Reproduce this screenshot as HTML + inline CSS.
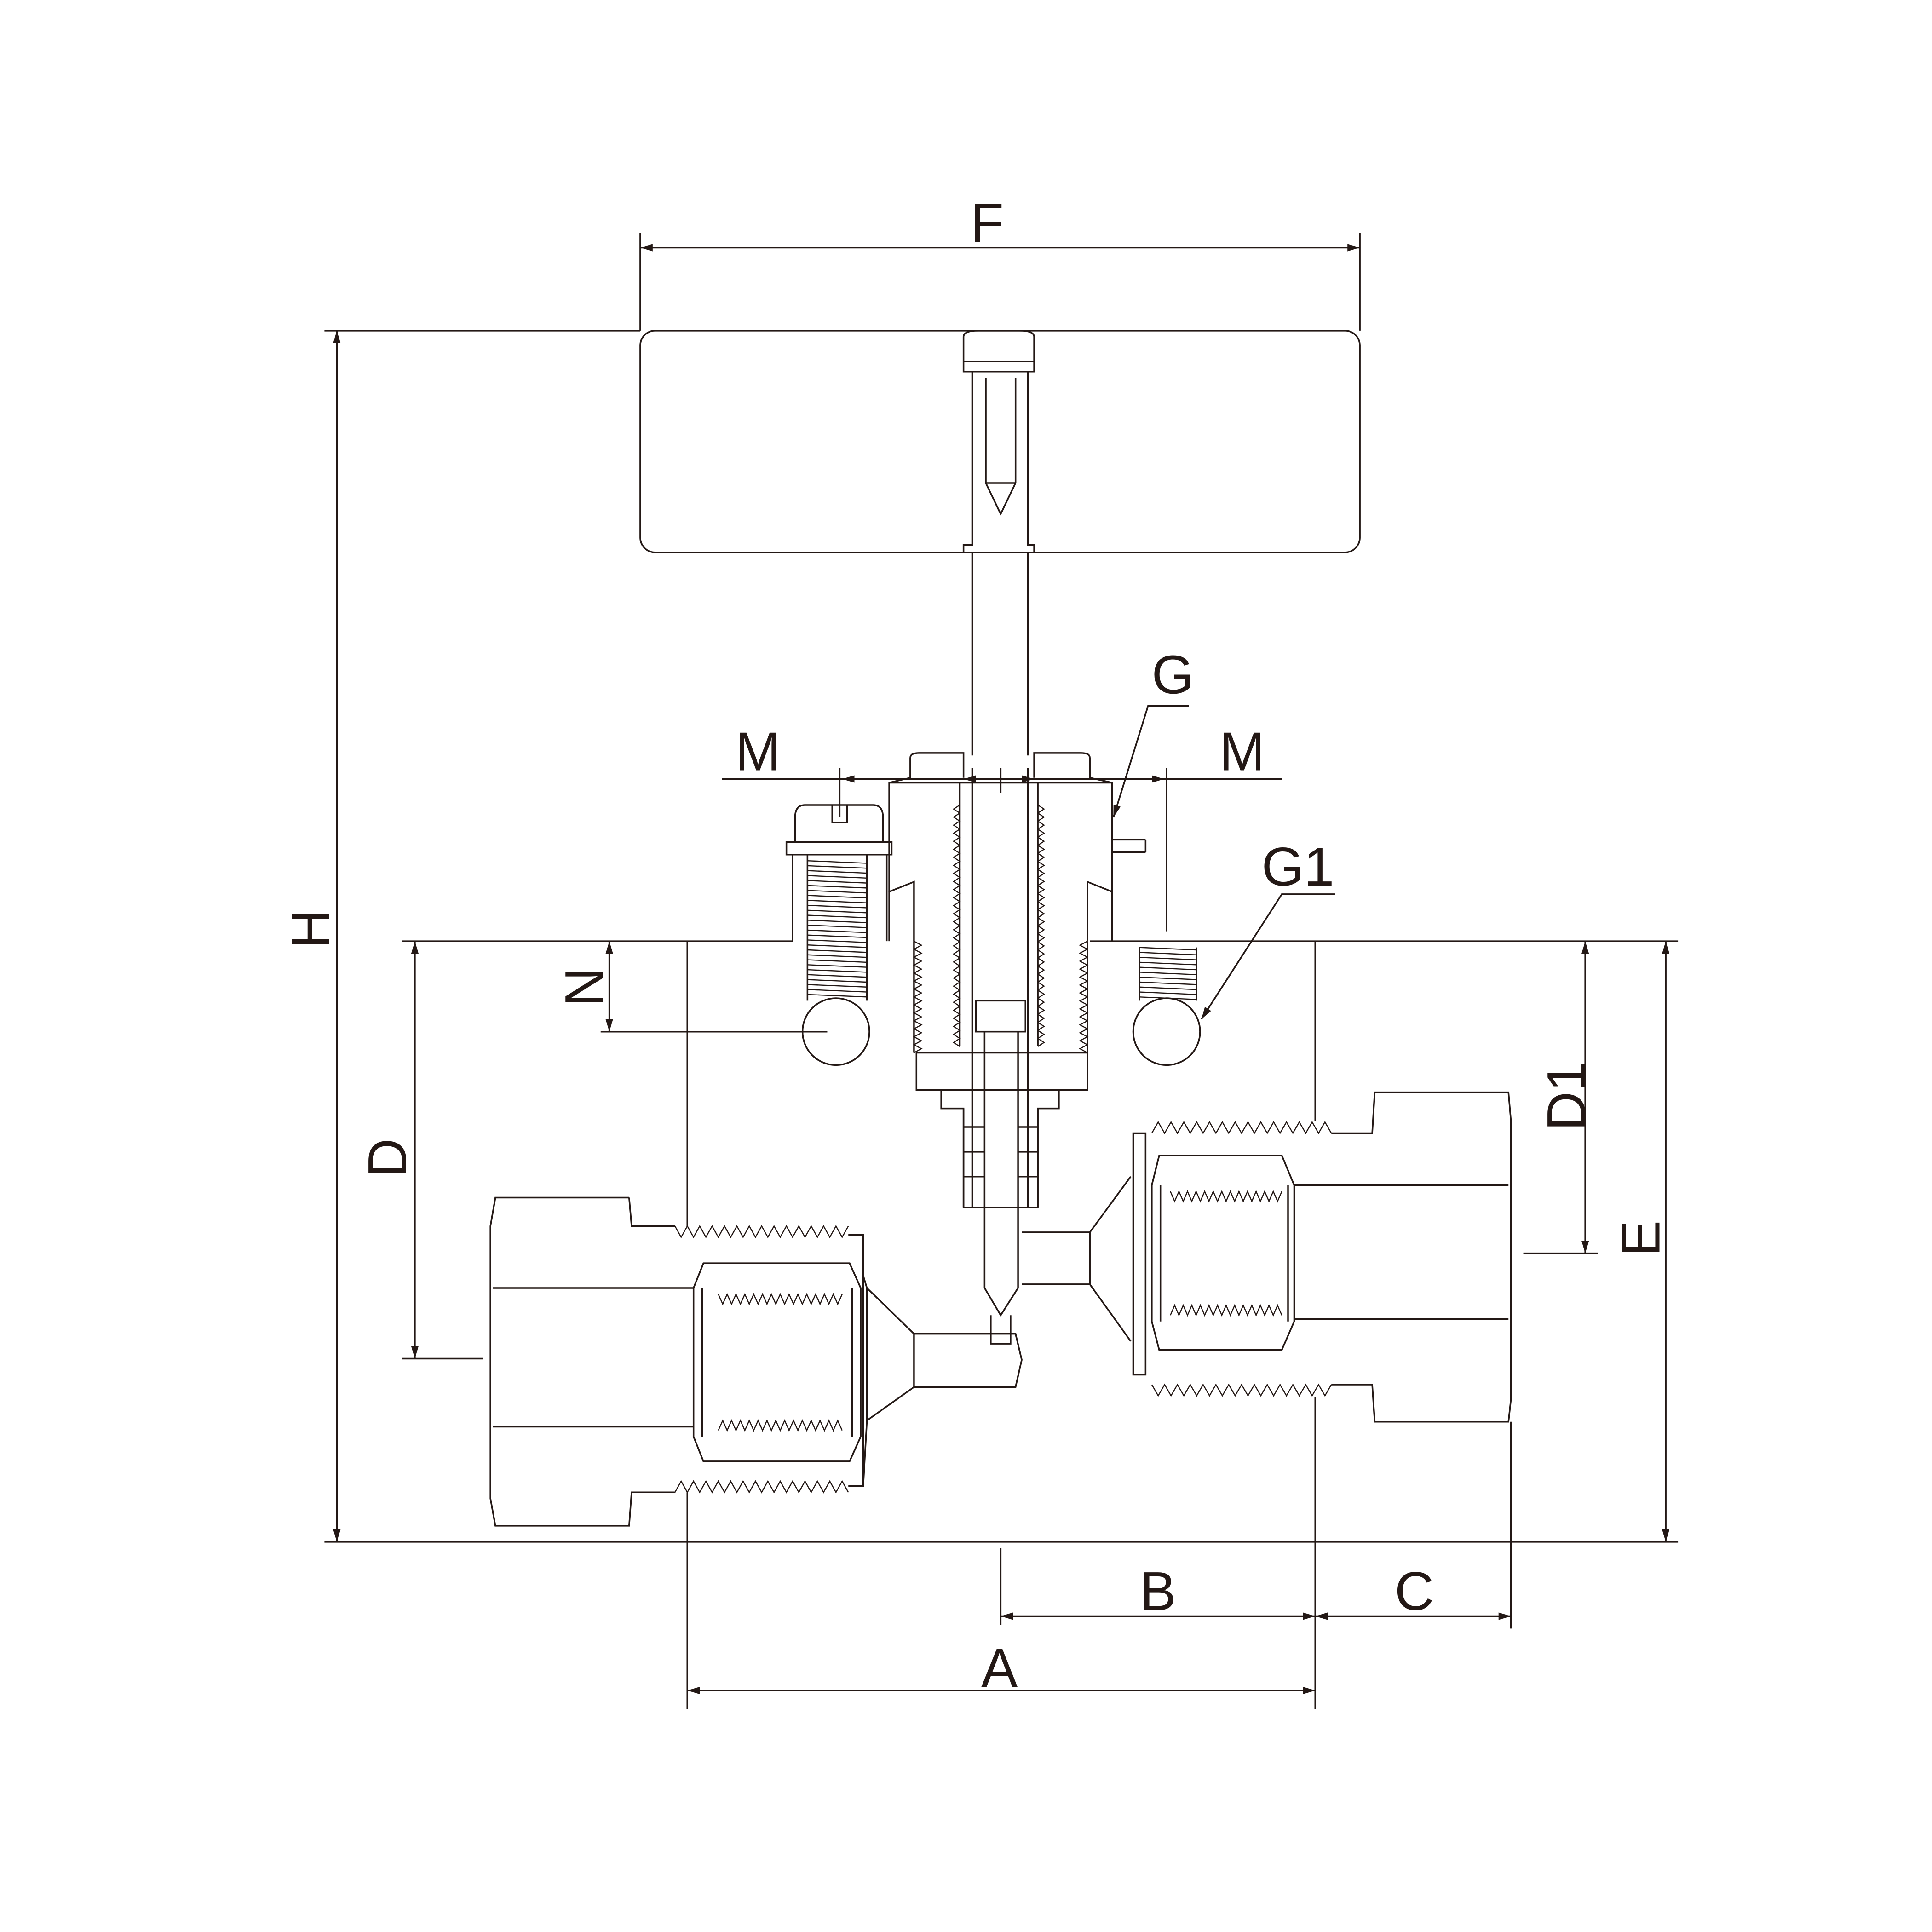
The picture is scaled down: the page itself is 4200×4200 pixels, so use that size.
<!DOCTYPE html>
<html><head><meta charset="utf-8"><style>
html,body{margin:0;padding:0;background:#fff}
svg{display:block}
text{font-family:"Liberation Sans",sans-serif;fill:#231815}
</style></head><body>
<svg id="s" width="4200" height="4200" viewBox="0 0 1560 1560" xmlns="http://www.w3.org/2000/svg">
<defs><marker id="a" viewBox="0 0 10 6" refX="10" refY="3" markerWidth="10" markerHeight="6" orient="auto-start-reverse" markerUnits="userSpaceOnUse"><path d="M0,0L10,3L0,6z" fill="#231815"/></marker></defs>
<g fill="none" stroke="#231815" stroke-width="1.3" id="g">
<!-- handle -->
<rect x="517" y="267" width="581" height="179" rx="12"/>
<path d="M778,300V272Q778,267 790,267H823Q835,267 835,272V300Z"/>
<line x1="778" y1="292" x2="835" y2="292"/>
<path d="M785,300V440H778V446M830,300V440H835V446"/>
<path d="M796,305V390L808,415L820,390V305"/>
<line x1="796" y1="390" x2="820" y2="390"/>
<path d="M785,446V610M830,446V610"/>
<!-- body -->
<path d="M555,760V990M555,1205V1245M1062,760V905M1062,1128V1245"/>
<line x1="325" y1="760" x2="640" y2="760"/>
<line x1="880" y1="760" x2="1355" y2="760"/>
<line x1="262" y1="1245" x2="1355" y2="1245"/>
<!-- packing nut/bonnet -->
<path d="M718,760V720L738,712V760M898,760V720L878,712V760"/>
<path d="M718,720V632L735,628V612Q735,608 742,608H778V628M898,720V632L880,628V612Q880,608 873,608H835V628"/>
<line x1="718" y1="632" x2="898" y2="632"/>
<line x1="898" y1="678" x2="925" y2="678"/><line x1="898" y1="688" x2="925" y2="688"/><line x1="925" y1="678" x2="925" y2="688"/>
<path d="M775,632V845M838,632V845"/>
<path d="M738,760V850M878,760V850"/>
<path d="M740,850H878V880H740Z"/>
<path d="M760,880V895H778V975H838V895H855V880"/>
<path d="M785,620V975M830,620V975"/>
<rect x="788" y="808" width="40" height="25"/>
<path d="M795,833V1040L808,1062L822,1040V833"/>
<path d="M778,895V975M838,895V975"/>
<path d="M778,910H795M778,930H795M778,950H795M822,910H838M822,930H838M822,950H838"/>
<path d="M800,1062V1085H816V1062"/>
<!-- left screw -->
<path d="M642,680V660Q642,650 650,650H705Q713,650 713,660V680"/>
<path d="M635,680H720V690H635Z"/>
<path d="M640,690V760M716,690V760M652,690V808M700,690V808"/>
<path d="M672,650V664H684V650"/>
<circle cx="675" cy="833" r="27"/>
<!-- right -->
<path d="M920,765V808M966,765V808"/>
<circle cx="942" cy="833" r="27"/>
<!-- left fitting -->
<path d="M508,967H400L396,990V1210L400,1232H508L510,1205H545"/>
<path d="M508,967L510,990H545"/>
<path d="M685,997H697V1200H685M697,1030L700,1040V1147L697,1200"/>
<path d="M568,1020H686L695,1040V1160L686,1180H568L560,1160V1040Z"/>
<path d="M398,1040H560M398,1152H560M567,1040V1160M688,1040V1160"/>
<path d="M700,1040L738,1077M700,1147L738,1120"/>
<path d="M738,1077H820L825,1098L820,1120H738Z"/>
<!-- right fitting -->
<path d="M1075,915H1108L1110,882H1218L1220,905V1130L1218,1148H1110L1108,1118H1075"/>
<path d="M915,915H925V1110H915Z"/>
<path d="M936,933H1035L1045,957V1067L1035,1090H936L930,1067V957Z"/>
<path d="M1045,957H1218M1045,1065H1218M937,957V1067M1040,957V1067"/>
<path d="M913,950L880,995M913,1083L880,1037"/>
<path d="M825,995H880V1037H825"/>
<!-- dimensions -->
<line x1="517" y1="188" x2="517" y2="267"/><line x1="1098" y1="188" x2="1098" y2="267"/>
<line x1="517" y1="200" x2="1098" y2="200" marker-start="url(#a)" marker-end="url(#a)"/>
<line x1="262" y1="267" x2="517" y2="267"/>
<line x1="272" y1="267" x2="272" y2="1245" marker-start="url(#a)" marker-end="url(#a)"/>
<line x1="335" y1="760" x2="335" y2="1097" marker-start="url(#a)" marker-end="url(#a)"/>
<line x1="325" y1="1097" x2="390" y2="1097"/>
<line x1="492" y1="760" x2="492" y2="833" marker-start="url(#a)" marker-end="url(#a)"/>
<line x1="485" y1="833" x2="668" y2="833"/>
<line x1="1280" y1="760" x2="1280" y2="1012" marker-start="url(#a)" marker-end="url(#a)"/>
<line x1="1230" y1="1012" x2="1290" y2="1012"/>
<line x1="1345" y1="760" x2="1345" y2="1245" marker-start="url(#a)" marker-end="url(#a)"/>
<line x1="808" y1="1250" x2="808" y2="1312"/>
<line x1="1062" y1="1245" x2="1062" y2="1380"/>
<line x1="555" y1="1245" x2="555" y2="1380"/>
<line x1="1220" y1="1148" x2="1220" y2="1315"/>
<line x1="808" y1="1305" x2="1062" y2="1305" marker-start="url(#a)" marker-end="url(#a)"/>
<line x1="1062" y1="1305" x2="1220" y2="1305" marker-start="url(#a)" marker-end="url(#a)"/>
<line x1="555" y1="1365" x2="1062" y2="1365" marker-start="url(#a)" marker-end="url(#a)"/>
<!-- M -->
<line x1="583" y1="629" x2="1035" y2="629"/>
<line x1="678" y1="620" x2="678" y2="660"/><line x1="808" y1="620" x2="808" y2="640"/>
<line x1="942" y1="620" x2="942" y2="752"/>
<line x1="720" y1="629" x2="680" y2="629" marker-end="url(#a)"/>
<line x1="778" y1="629" x2="805" y2="629" marker-start="url(#a)"/>
<line x1="811" y1="629" x2="835" y2="629" marker-end="url(#a)"/>
<line x1="900" y1="629" x2="940" y2="629" marker-end="url(#a)"/>
<!-- G leaders -->
<polyline points="960,570 927,570 899,660" marker-end="url(#a)"/>
<polyline points="1078,722 1035,722 970,823" marker-end="url(#a)"/>
</g>
<g id="th" fill="none" stroke="#231815" stroke-width="0.9"></g>
<text x="797" y="195" font-size="44" text-anchor="middle">F</text>
<text x="947" y="560" font-size="44" text-anchor="middle">G</text>
<text x="612" y="622" font-size="44" text-anchor="middle">M</text>
<text x="1003" y="622" font-size="44" text-anchor="middle">M</text>
<text x="1048" y="715" font-size="44" text-anchor="middle">G1</text>
<text x="935" y="1300" font-size="44" text-anchor="middle">B</text>
<text x="1142" y="1300" font-size="44" text-anchor="middle">C</text>
<text x="807" y="1362" font-size="44" text-anchor="middle">A</text>
<text font-size="44" text-anchor="middle" transform="translate(266,750) rotate(-90)">H</text>
<text font-size="44" text-anchor="middle" transform="translate(328,935) rotate(-90)">D</text>
<text font-size="44" text-anchor="middle" transform="translate(487,797) rotate(-90)">N</text>
<text font-size="44" text-anchor="middle" transform="translate(1280,885) rotate(-90)">D1</text>
<text font-size="44" text-anchor="middle" transform="translate(1340,1000) rotate(-90)">E</text>
</svg>
<script>
var t=document.getElementById('th'),d='';
function hz(x1,x2,y,a,n){var s=(x2-x1)/n;d+='M'+x1+','+y;for(var i=0;i<n;i++){d+='L'+(x1+s*(i+.5))+','+(y+a)+'L'+(x1+s*(i+1))+','+y;}}
function vz(y1,y2,x,a,n){var s=(y2-y1)/n;d+='M'+x+','+y1;for(var i=0;i<n;i++){d+='L'+(x+a)+','+(y1+s*(i+.5))+'L'+x+','+(y1+s*(i+1));}}
hz(545,685,990,9,14);hz(545,685,1205,-9,14);
hz(930,1075,915,-9,14);hz(930,1075,1118,9,14);
hz(580,680,1045,8,14);hz(580,680,1155,-8,14);
hz(945,1035,962,8,13);hz(945,1035,1062,-8,13);
vz(760,850,738,6,14);vz(760,850,878,-6,14);
vz(650,845,775,-5,30);vz(650,845,838,5,30);
for(var y=695;y<805;y+=4)d+='M652,'+y+'L700,'+(y+2);
for(var y=765;y<806;y+=4)d+='M920,'+y+'L966,'+(y+2);
t.setAttribute('d','');var p=document.createElementNS('http://www.w3.org/2000/svg','path');p.setAttribute('d',d);t.appendChild(p);
</script>
</body></html>
